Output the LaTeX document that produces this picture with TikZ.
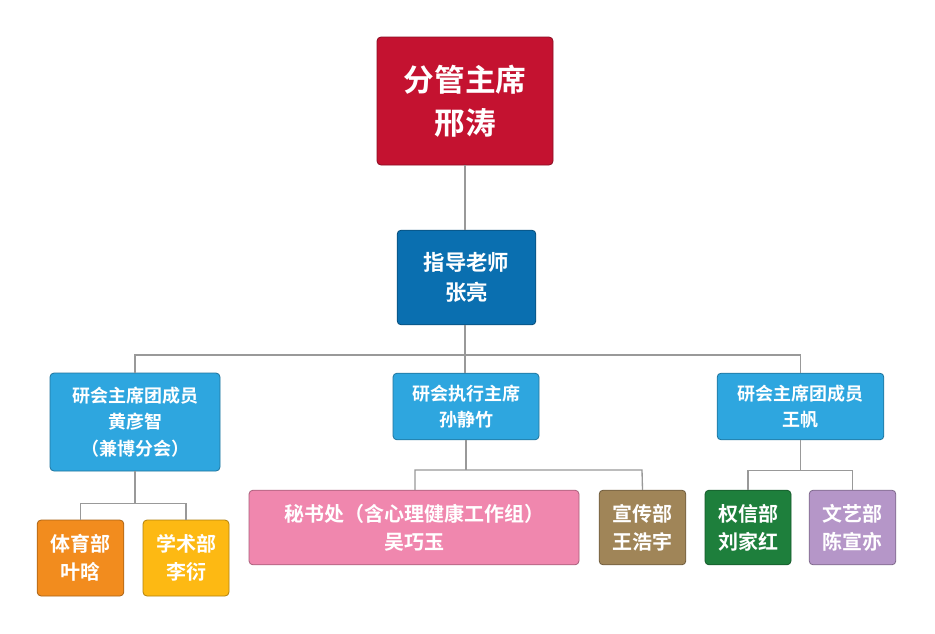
\documentclass[tikz,border=0pt]{standalone}
\usepackage{fontspec}
\setmainfont{Noto Sans CJK SC}[BoldFont={* Bold}]
\begin{document}
\begin{tikzpicture}[x=0.75pt,y=-0.75pt,
  box/.style={draw=#1!70!black,fill=#1,rounded corners=3pt,text=white,font=\bfseries,align=center,inner sep=0pt,line width=0.6pt},
  conn/.style={draw=gray!80,line width=1pt}]
\definecolor{cred}{HTML}{C41230}
\definecolor{cblue}{HTML}{0A6FB0}
\definecolor{clb}{HTML}{2EA6DF}
\definecolor{corg}{HTML}{F28C1E}
\definecolor{cyel}{HTML}{FDB913}
\definecolor{cpink}{HTML}{F087AE}
\definecolor{cbrn}{HTML}{A08558}
\definecolor{cgrn}{HTML}{1E7F3C}
\definecolor{cpur}{HTML}{B596C8}
\fill[white] (0,0) rectangle (935,633);
\newcommand{\bx}[7]{\node[box=#2,minimum width=#5*0.75pt,minimum height=#6*0.75pt,font=\bfseries#7] (#1) at ({(#3+#5/2)},{(#4+#6/2)}) {};}
% top
\node[box=cred,minimum width=132pt,minimum height=96pt,font=\bfseries\fontsize{23}{32}\selectfont] (top) at (465,101) {分管主席\\邢涛};
\node[box=cblue,minimum width=104pt,minimum height=71pt,font=\bfseries\fontsize{16}{23}\selectfont] (guide) at (466.5,277.5) {指导老师\\张亮};
\node[box=clb,minimum width=127.5pt,minimum height=73.5pt,font=\bfseries\fontsize{13.5}{20}\selectfont] (L) at (135,422) {研会主席团成员\\黄彦智\\（兼博分会）};
\node[box=clb,minimum width=109.5pt,minimum height=50pt,font=\bfseries\fontsize{13.5}{20}\selectfont] (M) at (466,406.5) {研会执行主席\\孙静竹};
\node[box=clb,minimum width=125pt,minimum height=50pt,font=\bfseries\fontsize{13.5}{20}\selectfont] (R) at (800.5,406.5) {研会主席团成员\\王帆};
\tikzset{sub/.style={font=\bfseries\fontsize{15}{21}\selectfont}}
\node[box=corg,sub,minimum width=65pt,minimum height=57pt] (L1) at (80.5,558) {体育部\\叶晗};
\node[box=cyel,sub,minimum width=64.5pt,minimum height=57pt] (L2) at (186,558) {学术部\\李衍};
\node[box=cpink,sub,minimum width=247.5pt,minimum height=56pt] (M1) at (414,527.5) {秘书处（含心理健康工作组）\\吴巧玉};
\node[box=cbrn,sub,minimum width=65pt,minimum height=56pt] (M2) at (642.5,527.5) {宣传部\\王浩宇};
\node[box=cgrn,sub,minimum width=64.5pt,minimum height=56pt] (R1) at (748,527.5) {权信部\\刘家红};
\node[box=cpur,sub,minimum width=65pt,minimum height=56pt] (R2) at (852.5,527.5) {文艺部\\陈宣亦};
\coordinate (h) at (465,355);
\draw[conn] (top.south) -- (top.south |- guide.north);
\draw[conn] (guide.south -| h) -- (h);
\draw[conn] (L.north) -- (L.north |- h) -- (R.north |- h) -- (R.north);
\draw[conn] (h) -- (h |- M.north);
\draw[conn] (L.south) -- ++(0,32) coordinate (ls);
\draw[conn] (L1.north) -- (L1.north |- ls) -- (L2.north |- ls) -- (L2.north);
\draw[conn] (M.south) -- ++(0,30) coordinate (ms);
\draw[conn] (M1.north -| 415,0) -- (415,470) -- (642,470) -- (M2.north);
\draw[conn] (R.south) -- ++(0,30) coordinate (rs);
\draw[conn] (R1.north) -- (R1.north |- rs) -- (R2.north |- rs) -- (R2.north);
\end{tikzpicture}
\end{document}
